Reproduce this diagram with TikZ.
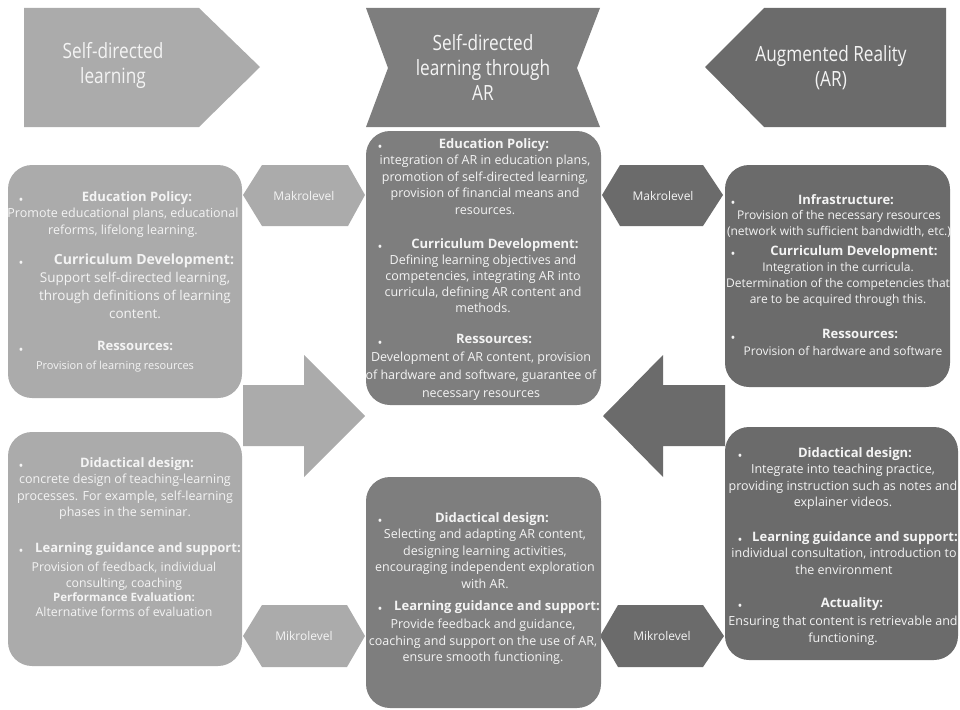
\documentclass[tikz,border=0pt]{standalone}
\usepackage{fontspec}
\setmainfont{Open Sans}
\newfontfamily\bannerfont[FakeStretch=0.82]{Open Sans}

\definecolor{lightcol}{RGB}{171,171,171}
\definecolor{midcol}{RGB}{126,126,126}
\definecolor{darkcol}{RGB}{107,107,107}
\definecolor{ink}{RGB}{244,244,244}

% bold heading line: optional size, shift (twice the offset of its centre), text
\newcommand\hd[3][13]{\makebox[0pt]{\hspace*{#2}\fontsize{#1}{#1}\selectfont\bfseries #3}}

\begin{document}
\begin{tikzpicture}[x=1pt,y=-1pt,
  panel/.style={rounded corners=24pt},
  blk/.style={anchor=north, inner sep=0pt, align=center, text=ink,
    font=\fontsize{12.5}{16.5}\selectfont},
  bul/.style={anchor=base, yshift=-8pt, inner sep=0pt, text=ink,
    font=\fontsize{13}{13}\selectfont},
  hexlabel/.style={inner sep=0pt, text=ink, font=\fontsize{12}{14}\selectfont},
  bantext/.style={inner sep=0pt, align=center, text=ink,
    font=\bannerfont\fontsize{21}{25}\selectfont}]
\useasboundingbox (0,0) rectangle (960,709);

% ---- top banners ----
\fill[lightcol] (24,8) -- (199,8) -- (260,67) -- (199,127) -- (24,127) -- cycle;
\fill[midcol] (366,8) -- (600,8) -- (577,68) -- (600,127) -- (366,127) -- (388,68) -- cycle;
\fill[darkcol] (705,67) -- (764,8) -- (946,8) -- (946,127) -- (764,127) -- cycle;
\node[bantext] (ban-l) at (113,65) {Self-directed\\learning};
\node[bantext] (ban-m) at (483,67) {Self-directed\\learning through\\AR};
\node[bantext] (ban-r) at (831,68) {Augmented Reality\\(AR)};

% ---- level hexagons ----
\fill[lightcol] (243,195) -- (262,165) -- (348,165) -- (365,195) -- (348,226) -- (262,226) -- cycle;
\fill[darkcol] (602,195) -- (620,165) -- (703,165) -- (723,195) -- (703,226) -- (620,226) -- cycle;
\fill[lightcol] (243,636) -- (262,605) -- (347,605) -- (365,636) -- (347,667) -- (262,667) -- cycle;
\fill[darkcol] (600,636) -- (618,605) -- (703,605) -- (724,636) -- (703,667) -- (618,667) -- cycle;
\node[hexlabel] (mak-l) at (304,196) {Makrolevel};
\node[hexlabel] (mak-r) at (663,196) {Makrolevel};
\node[hexlabel] (mik-l) at (304,636) {Mikrolevel};
\node[hexlabel] (mik-r) at (662,636) {Mikrolevel};

% ---- block arrows ----
\fill[lightcol] (243,385) -- (304,385) -- (304,355) -- (365,416) -- (304,477) -- (304,446) -- (243,446) -- cycle;
\fill[darkcol] (725,385) -- (663,385) -- (663,355) -- (603,416) -- (663,477) -- (663,446) -- (725,446) -- cycle;

% ---- panels ----
\fill[lightcol, panel] (8,165) rectangle (242,398);
\fill[midcol, panel] (366,131) rectangle (601,405);
\fill[darkcol, panel] (725,165) rectangle (950,387);
\fill[lightcol, panel] (8,432) rectangle (242,666);
\fill[midcol, panel] (366,477) rectangle (601,708);
\fill[darkcol, panel] (725,427) rectangle (958,660);

% ---- left upper panel ----
\node[bul] (lt-d1) at (21,196) {•};
\node[blk] (lt-1) at (123,191) {\hd{28pt}{Education Policy:}\\
  Promote educational plans, educational\\ reforms, lifelong learning.};
\node[bul] (lt-d2) at (21,259) {•};
\node[blk, font=\fontsize{13.5}{18}\selectfont] (lt-2) at (135,254) {\hd[14]{18pt}{Curriculum Development:}\\
  Support self-directed learning,\\ through definitions of learning\\ content.};
\node[bul] (lt-d3) at (21,346) {•};
\node[blk, font=\fontsize{11}{16.5}\selectfont] (lt-3) at (115,341) {\hd{40pt}{Ressources:}\\[3pt]
  Provision of learning resources};

% ---- middle upper panel ----
\node[bul] (mt-d1) at (380,143) {•};
\node[blk] (mt-1) at (485,138) {\hd{18pt}{Education Policy:}\\
  integration of AR in education plans,\\ promotion of self-directed learning,\\
  provision of financial means and\\ resources.};
\node[bul] (mt-d2) at (380,243) {•};
\node[blk, font=\fontsize{12.5}{16}\selectfont] (mt-2) at (483,238) {\hd{24pt}{Curriculum Development:}\\
  Defining learning objectives and\\ competencies, integrating AR into\\
  curricula, defining AR content and\\ methods.};
\node[bul] (mt-d3) at (380,339) {•};
\node[blk, font=\fontsize{12.5}{18}\selectfont] (mt-3) at (481,334) {\hd{26pt}{Ressources:}\\
  Development of AR content, provision\\ of hardware and software, guarantee of\\
  necessary resources};

% ---- right upper panel ----
\node[bul] (rt-d1) at (733,199) {•};
\node[blk, font=\fontsize{12}{15.5}\selectfont] (rt-1) at (839,194) {\hd{14pt}{Infrastructure:}\\
  Provision of the necessary resources\\ (network with sufficient bandwidth, etc.)};
\node[bul] (rt-d2) at (733,250) {•};
\node[blk, font=\fontsize{12}{16}\selectfont] (rt-2) at (838,245) {\hd{32pt}{Curriculum Development:}\\
  Integration in the curricula.\\ Determination of the competencies that\\
  are to be acquired through this.};
\node[bul] (rt-d3) at (733,334) {•};
\node[blk, font=\fontsize{12}{17}\selectfont] (rt-3) at (843,329) {\hd{34pt}{Ressources:}\\
  Provision of hardware and software};

% ---- left lower panel ----
\node[bul] (lb-d1) at (21,462) {•};
\node[blk] (lb-1) at (125,457) {\hd{24pt}{Didactical design:}\\
  concrete design of teaching-learning\\ processes. For example, self-learning\\
  phases in the seminar.};
\node[bul] (lb-d2) at (21,547) {•};
\node[blk, font=\fontsize{12.3}{16}\selectfont] (lb-2) at (124,542) {\hd{28pt}{Learning guidance and support:}\\[3pt]
  Provision of feedback, individual\\ consulting, coaching\\[-2pt]
  {\fontsize{11.5}{11.5}\selectfont\bfseries Performance Evaluation:}\\[-1pt] Alternative forms of evaluation};

% ---- middle lower panel ----
\node[bul] (mb-d1) at (380,517) {•};
\node[blk] (mb-1) at (485,512) {\hd{14pt}{Didactical design:}\\
  Selecting and adapting AR content,\\ designing learning activities,\\
  encouraging independent exploration\\ with AR.};
\node[bul] (mb-d2) at (380,605) {•};
\node[blk] (mb-2) at (483,600) {\hd{28pt}{Learning guidance and support:}\\[2pt]
  Provide feedback and guidance,\\ coaching and support on the use of AR,\\
  ensure smooth functioning.};

% ---- right lower panel ----
\node[bul] (rb-d1) at (740,452) {•};
\node[blk] (rb-1) at (843,447) {\hd{24pt}{Didactical design:}\\
  Integrate into teaching practice,\\ providing instruction such as notes and\\
  explainer videos.};
\node[bul] (rb-d2) at (740,536) {•};
\node[blk] (rb-2) at (844,531) {\hd{22pt}{Learning guidance and support:}\\
  individual consultation, introduction to\\ the environment};
\node[bul] (rb-d3) at (740,602) {•};
\node[blk] (rb-3) at (843,597) {\hd{18pt}{Actuality:}\\[2pt]
  Ensuring that content is retrievable and\\ functioning.};
\end{tikzpicture}
\end{document}
